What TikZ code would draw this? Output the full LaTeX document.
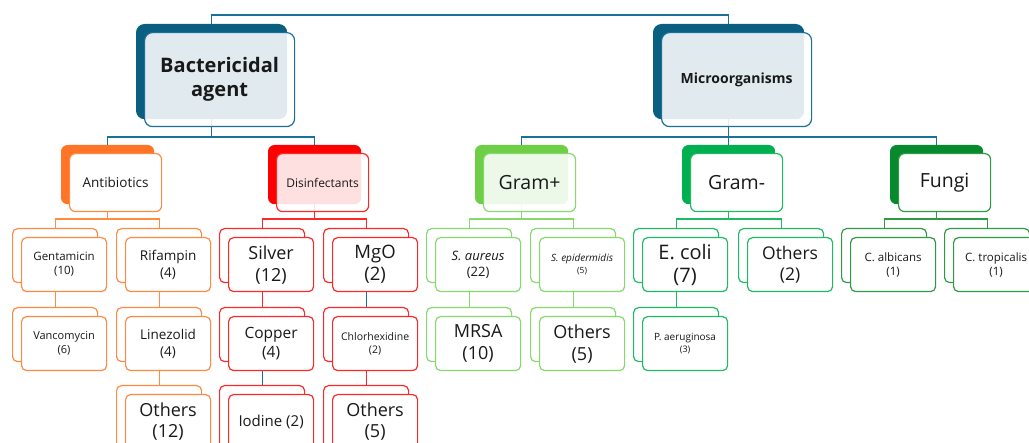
\documentclass[tikz,border=0pt]{standalone}
\usepackage{fontspec}
\setmainfont{Open Sans}
\usetikzlibrary{calc,positioning}
\pgfdeclarelayer{bg}
\pgfsetlayers{bg,main}

\definecolor{tealbox}{HTML}{0A5E80}
\definecolor{tealline}{HTML}{1A7099}
\definecolor{orngbox}{HTML}{FF7426}
\definecolor{orngline}{HTML}{FF8A42}
\definecolor{redbox}{HTML}{FF0000}
\definecolor{redline}{HTML}{FF2828}
\definecolor{lgrbox}{HTML}{6ECF47}
\definecolor{lgrline}{HTML}{86D96B}
\definecolor{mgrbox}{HTML}{00B050}
\definecolor{mgrline}{HTML}{1DBB63}
\definecolor{dgrbox}{HTML}{07892E}
\definecolor{dgrline}{HTML}{2F9A44}

\newcommand{\fsz}[2]{\fontsize{#1}{#2}\selectfont}
% back box + front box with the label
\newcommand{\twobox}[8]{%
  \node[#3,#4,anchor=north west] (#1-b) at #2 {};
  \node[#5,#3,anchor=north west,font=#7] (#1) at ($(#1-b.north west)+(#6)$) {#8};}

\tikzset{
  big/.style={minimum width=150pt,minimum height=94pt,rounded corners=8pt},
  mid/.style={minimum width=92pt,minimum height=58pt,rounded corners=6pt},
  small/.style={minimum width=85pt,minimum height=54pt,rounded corners=5pt},
  back/.style={draw=#1,fill=#1,line width=1.2pt,inner sep=0pt},
  hollow/.style={draw=#1,fill=white,line width=1.2pt,inner sep=0pt},
  hollowlong/.style={hollow=#1,minimum height=66pt},
  front/.style={draw=#1,fill=white,line width=1.2pt,inner sep=1pt,align=center,text=black!90},
  glass/.style={front=#1,fill opacity=0.88,text opacity=1},
  link/.style={draw=#1,line width=1.2pt},
}

\begin{document}
\begin{tikzpicture}[x=1pt,y=-1pt]
\useasboundingbox (0,0) rectangle (1029,443);
\clip (0,0) rectangle (1029,443);

% top level
\twobox{bact}{(136,24)}{big}{back=tealbox}{glass=tealline}{8,8}{\fsz{20}{24}\bfseries}{Bactericidal\\agent}
\twobox{micro}{(653,24)}{big}{back=tealbox}{glass=tealline}{8,8}{\fsz{14}{17}\bfseries}{Microorganisms}

% second level
\twobox{anti}{(61,145)}{mid}{back=orngbox}{front=orngline}{8,8}{\fsz{13.5}{16}}{Antibiotics}
\twobox{disin}{(268,145)}{mid}{back=redbox}{glass=redline}{8,8}{\fsz{12}{14}}{Disinfectants}
\twobox{gramp}{(475,145)}{mid}{back=lgrbox}{glass=lgrline}{8,8}{\fsz{19.5}{23}}{Gram+}
\twobox{gramn}{(682,145)}{mid}{back=mgrbox}{front=mgrline}{8,8}{\fsz{19.5}{23}}{Gram-}
\twobox{fungi}{(890,145)}{mid}{back=dgrbox}{front=dgrline}{8,8}{\fsz{19.5}{23}}{Fungi}

% antibiotics
\twobox{gent}{(12,228)}{small}{hollow=orngline}{front=orngline}{9,9}{\fsz{11.5}{14}}{Gentamicin\\(10)}
\twobox{vanc}{(12,307)}{small}{hollow=orngline}{front=orngline}{9,9}{\fsz{11}{14}}{Vancomycin\\(6)}
\twobox{rif}{(116,228)}{small}{hollow=orngline}{front=orngline}{9,9}{\fsz{13.5}{17}}{Rifampin\\(4)}
\twobox{linez}{(116,307)}{small}{hollow=orngline}{front=orngline}{9,9}{\fsz{13.5}{17}}{Linezolid\\(4)}
\twobox{othA}{(116,385)}{small}{hollowlong=orngline}{front=orngline}{9,9}{\fsz{18}{21}}{Others\\(12)}

% disinfectants
\twobox{silver}{(219,228)}{small}{hollow=redline}{front=redline}{9,9}{\fsz{18}{22}}{Silver\\(12)}
\twobox{copper}{(219,307)}{small}{hollow=redline}{front=redline}{9,9}{\fsz{15.5}{19}}{Copper\\(4)}
\twobox{iodine}{(219,385)}{small}{hollowlong=redline}{front=redline}{9,9}{\fsz{15}{18}}{Iodine (2)}
\twobox{mgo}{(323,228)}{small}{hollow=redline}{front=redline}{9,9}{\fsz{18.5}{22}}{MgO\\(2)}
\twobox{chlor}{(323,307)}{small}{hollow=redline}{front=redline}{9,9}{\fsz{10.5}{13}}{Chlorhexidine\\(2)}
\twobox{othD}{(323,385)}{small}{hollowlong=redline}{front=redline}{9,9}{\fsz{18}{21}}{Others\\(5)}

% gram+
\twobox{saur}{(426,228)}{small}{hollow=lgrline}{front=lgrline}{9,9}{\fsz{13}{16}}{\textit{S. aureus}\\(22)}
\twobox{mrsa}{(426,307)}{small}{hollow=lgrline}{front=lgrline}{9,9}{\fsz{18}{22}}{MRSA\\(10)}
\twobox{sepi}{(530,228)}{small}{hollow=lgrline}{front=lgrline}{9,9}{\fsz{10}{12}}{\textit{S. epidermidis}\\{\fsz{8.5}{11}(5)}}
\twobox{othP}{(530,307)}{small}{hollow=lgrline}{front=lgrline}{9,9}{\fsz{18}{22}}{Others\\(5)}

% gram-
\twobox{ecoli}{(633,228)}{small}{hollow=mgrline}{front=mgrline}{9,9}{\fsz{20}{23}}{E. coli\\(7)}
\twobox{paer}{(633,307)}{small}{hollow=mgrline}{front=mgrline}{9,9}{\fsz{10}{12}}{P. aeruginosa\\{\fsz{9}{11}(3)}}
\twobox{othN}{(738,228)}{small}{hollow=mgrline}{front=mgrline}{9,9}{\fsz{17.5}{21}}{Others\\(2)}

% fungi
\twobox{calb}{(841,228)}{small}{hollow=dgrline}{front=dgrline}{9,9}{\fsz{11.5}{14}}{C. albicans\\(1)}
\twobox{ctrop}{(944,228)}{small}{hollow=dgrline}{front=dgrline}{9,9}{\fsz{11.5}{14}}{C. tropicalis\\(1)}

\begin{pgfonlayer}{bg}
\draw[link=tealline] (bact-b.north) -- ++(0,-9) -| (micro-b.north);
\draw[link=tealline] (bact-b.center) |- ([yshift=8pt]anti-b.north) -- (anti-b.north);
\draw[link=tealline] (bact-b.center) |- ([yshift=8pt]disin-b.north) -- (disin-b.north);
\draw[link=tealline] (micro-b.center) |- ([yshift=8pt]gramp-b.north) -- (gramp-b.north);
\draw[link=tealline] (micro-b.center) |- ([yshift=8pt]fungi-b.north) -- (fungi-b.north);
\draw[link=tealline] (micro-b.center) -- (gramn-b.north);

\draw[link=orngline] (anti-b.center) |- ([yshift=9pt]gent-b.north) -- (gent-b.north);
\draw[link=orngline] (anti-b.center) |- ([yshift=9pt]rif-b.north) -- (rif-b.north);
\draw[link=orngline] (gent-b.center) -- (vanc-b.north);
\draw[link=orngline] (rif-b.center) -- (linez-b.north);
\draw[link=orngline] (linez-b.center) -- (othA-b.north);

\draw[link=redline] (disin-b.center) |- ([yshift=9pt]silver-b.north) -- (silver-b.north);
\draw[link=redline] (disin-b.center) |- ([yshift=9pt]mgo-b.north) -- (mgo-b.north);
\draw[link=redline] (silver-b.center) -- (copper-b.north);
\draw[link=tealline] (copper-b.center) -- (iodine-b.north);
\draw[link=tealline] (mgo-b.center) -- (chlor-b.north);
\draw[link=redline] (chlor-b.center) -- (othD-b.north);

\draw[link=lgrline] (gramp-b.center) |- ([yshift=9pt]saur-b.north) -- (saur-b.north);
\draw[link=lgrline] (gramp-b.center) |- ([yshift=9pt]sepi-b.north) -- (sepi-b.north);
\draw[link=lgrline] (saur-b.center) -- (mrsa-b.north);
\draw[link=lgrline] (sepi-b.center) -- (othP-b.north);

\draw[link=mgrline] (gramn-b.center) |- ([yshift=9pt]ecoli-b.north) -- (ecoli-b.north);
\draw[link=mgrline] (gramn-b.center) |- ([yshift=9pt]othN-b.north) -- (othN-b.north);
\draw[link=mgrline] (ecoli-b.center) -- (paer-b.north);

\draw[link=dgrline] (fungi-b.center) |- ([yshift=9pt]calb-b.north) -- (calb-b.north);
\draw[link=dgrline] (fungi-b.center) |- ([yshift=9pt]ctrop-b.north) -- (ctrop-b.north);
\end{pgfonlayer}
\end{tikzpicture}
\end{document}
